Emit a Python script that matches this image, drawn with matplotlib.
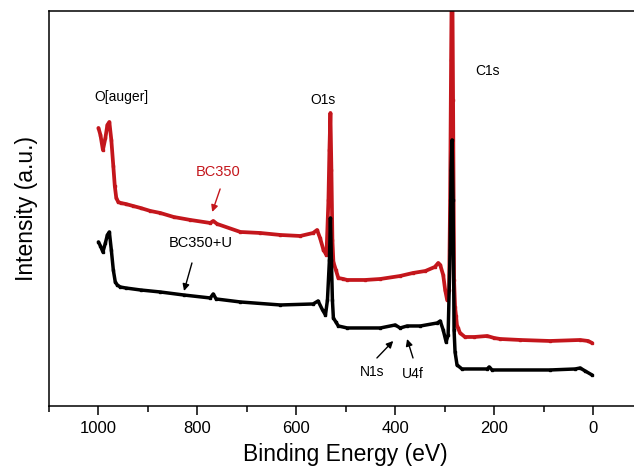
import matplotlib
matplotlib.use("Agg")
import matplotlib.pyplot as plt

plt.rcParams["font.family"] = ["Liberation Sans", "DejaVu Sans"]

# XPS survey spectra (binding energy in eV, intensity in a.u.)
bc350_energy = [1000, 996, 991, 986, 982, 978, 974, 970, 967, 964, 960, 955, 945, 930,
                915, 895, 875, 848, 814, 774, 768, 760, 713, 673, 632, 592, 566, 558,
                552, 545, 539, 535, 533, 531, 529, 527, 525, 520, 515, 505, 497, 461,
                430, 390, 364, 339, 320, 313, 309, 303, 299, 295, 291, 289, 287, 285,
                283, 281, 279, 277, 275, 273, 269, 259, 240, 214, 200, 188, 147, 87,
                26, 10, 2]
bc350_intensity = [278, 271, 256, 268, 281, 284, 266, 240, 220, 208, 204, 203, 202, 200,
                   198, 195, 193, 189, 186, 183, 185, 182, 174, 173, 171, 170, 173, 176,
                   168, 156, 151, 206, 256, 293, 236, 166, 144, 136, 128, 127, 126, 126,
                   127, 130, 133, 135, 139, 143, 141, 131, 116, 106, 116, 206, 346, 470,
                   306, 126, 99, 90, 80, 78, 73, 69, 69, 70, 68, 67, 66, 65,
                   66, 65, 63]

bc350u_energy = [1000, 996, 991, 986, 982, 978, 974, 970, 966, 962, 956, 945, 915, 875,
                 828, 774, 768, 762, 713, 632, 566, 556, 547, 541, 537, 533, 531, 529,
                 527, 525, 520, 515, 497, 430, 400, 390, 376, 349, 315, 309, 303, 297,
                 293, 289, 287, 285, 283, 281, 279, 275, 265, 214, 210, 204, 87, 36,
                 26, 16, 2]
bc350u_intensity = [164, 160, 154, 163, 171, 174, 156, 136, 124, 121, 119, 118, 116, 114,
                    111, 108, 112, 107, 104, 101, 102, 105, 96, 91, 106, 146, 188, 146,
                    106, 88, 84, 80, 78, 78, 81, 78, 80, 80, 83, 85, 76, 64,
                    71, 156, 236, 266, 206, 76, 54, 41, 37, 37, 39, 36, 36, 37,
                    38, 35, 31]

RED = "#c4161c"

fig = plt.figure(figsize=(6.34, 4.73), dpi=100)
ax = fig.add_axes([0.0773, 0.1417, 0.9361, 0.8351])

ax.plot(bc350_energy, bc350_intensity, color=RED, lw=2.7, marker="s", ms=2.0,
        solid_joinstyle="round", solid_capstyle="round")
ax.plot(bc350u_energy, bc350u_intensity, color="black", lw=2.5, marker="s", ms=2.0,
        solid_joinstyle="round", solid_capstyle="round")

ax.set_xlim(1100, -100)
ax.set_ylim(0, 395)
ax.set_xticks([1000, 800, 600, 400, 200, 0])
ax.set_xticks([1100, 900, 700, 500, 300, 100], minor=True)
ax.set_yticks([])
ax.tick_params(axis="x", which="major", length=6.5, width=1.1, pad=4.5, labelsize=12)
ax.tick_params(axis="x", which="minor", length=4.3, width=1.1)
for sp in ax.spines.values():
    sp.set_linewidth(1.1)

ax.set_xlabel("Binding Energy (eV)", fontsize=16.5, labelpad=5)
ax.set_ylabel("Intensity (a.u.)", fontsize=16.5, labelpad=8)

# peak labels
fs = 10
ax.text(954, 309, "O[auger]", fontsize=fs, ha="center", va="center")
ax.text(546, 306, "O1s", fontsize=fs, ha="center", va="center")
ax.text(214, 335, "C1s", fontsize=fs, ha="center", va="center")
ax.text(758, 234, "BC350", fontsize=fs + 0.5, color=RED, ha="center", va="center")
ax.text(793, 163, "BC350+U", fontsize=fs + 0.5, ha="center", va="center")
ax.text(447, 34, "N1s", fontsize=fs, ha="center", va="center")
ax.text(364, 32, "U4f", fontsize=fs, ha="center", va="center")

arrow = dict(arrowstyle="-|>", lw=1.0, mutation_scale=10, shrinkA=0, shrinkB=0)
ax.annotate("", xy=(770, 194), xytext=(754, 217), arrowprops=dict(arrow, color=RED))
ax.annotate("", xy=(827, 115), xytext=(811, 143), arrowprops=dict(arrow, color="black"))
ax.annotate("", xy=(404, 65), xytext=(437, 48), arrowprops=dict(arrow, color="black"))
ax.annotate("", xy=(376, 67), xytext=(364, 48), arrowprops=dict(arrow, color="black"))

fig.savefig("out.png", dpi=100)
